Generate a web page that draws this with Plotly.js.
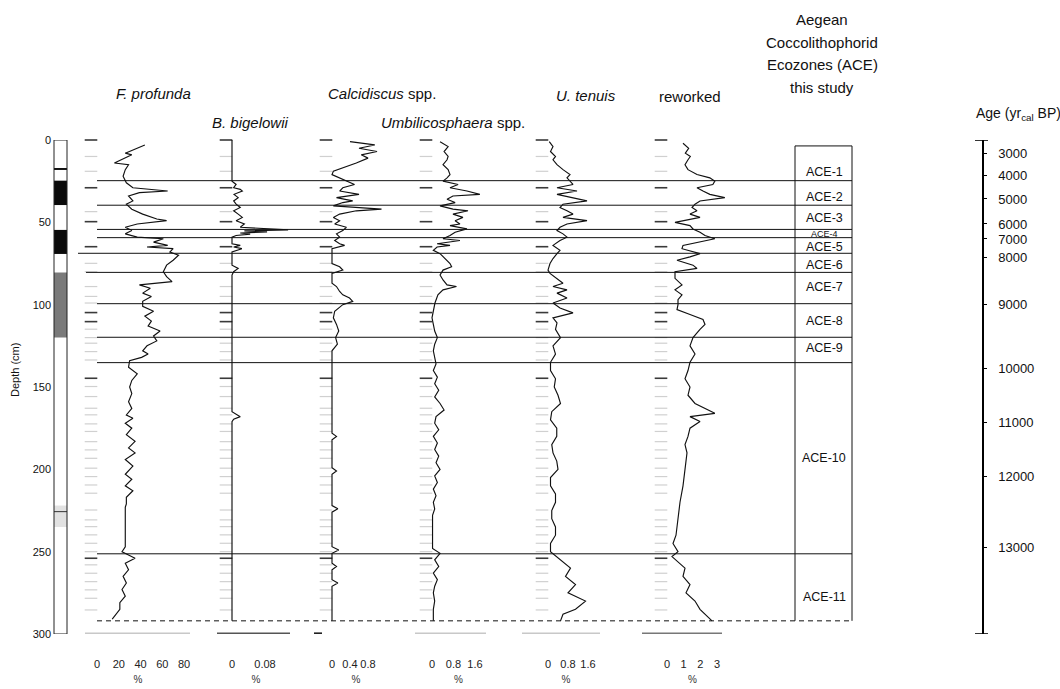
<!DOCTYPE html>
<html><head><meta charset="utf-8">
<script src="https://cdn.plot.ly/plotly-3.0.1.min.js"></script>
<style>html,body{margin:0;padding:0;background:#fff}#chart{width:1060px;height:689px}</style>
</head><body><div id="chart"></div>
<script>
// ---------------- DATA ----------------
const fpDepth = [3,8,9,14,15,18,22,26,29,31,32,34,37,39,42,45,48,49,51,53,55,57,59,60,62,64,65,66,68,70,73,76,80,83,86,88,90,93,95,98,101,104,107,110,113,116,119,122,125,128,130,132,134,138,142,146,150,154,159,163,167,169,172,175,179,183,187,190,194,198,203,206,210,213,217,221,223,247,250,254,257,261,265,269,273,277,281,285,291];
const fpValue = [44,26,32,16,29,26,24,27,33,65,39,29,33,27,32,42,55,64,37,26,32,26,37,61,52,65,46,70,67,75,70,64,61,64,69,39,49,42,50,42,42,52,44,50,47,58,52,55,46,42,47,41,30,29,37,32,30,32,29,32,27,33,26,32,27,35,29,35,26,33,26,32,26,33,27,27,26,26,23,35,26,29,24,27,23,26,21,21,14];

const bbDepth = [0,25,27,29,30,31,33,35,37,39,41,43,45,47,49,51,53,54.6,55.2,55.8,56.5,57.2,58,59,63,64,65,66,68,76,78,80,82,165,168,169.5,171,292];
const bbValue = [0,0,0.01,0.004,0.02,0.025,0.005,0.015,0.004,0.01,0.02,0.004,0.015,0.025,0.01,0.03,0.02,0.136,0.03,0.085,0.02,0.044,0.01,0,0,0.02,0.004,0.024,0,0,0.015,0.004,0,0,0.02,0.004,0,0];

const caDepth = [1,3,5,7,9,11,14,16,19,21,23,25,27,29,31,33,35,37,38,40,42,43,45,47,49,51,53,55,57,59,61,63,64,66,75,77,79,81,87,89,92,94,96,98,100,104,108,112,116,120,124,128,178,180,182,199,201,203,222,224,226,247,249,251,257,259,261,267,269,271,292];
const caValue = [0.4,0.95,0.6,1.0,0.65,0.8,0.54,0.32,0.03,0,0.17,0.32,0.5,0.24,0.17,0.6,0.1,0.46,0.24,0.03,1.1,0.54,0.17,0.03,0.17,0.06,0.32,0.24,0.1,0.17,0.06,0.17,0.28,0,0,0.17,0.24,0,0,0.1,0.17,0.24,0.39,0.46,0.24,0.06,0.03,0.1,0.15,0.08,0.12,0,0,0.1,0,0,0.1,0,0,0.13,0,0,0.15,0,0,0.1,0,0,0.13,0,0];

const umDepth = [1,4,7,10,12,15,18,21,23,25,27,29,31,33,34,36,38,40,42,43,45,47,49,51,52,54,56,58,60,61,63,64,65,67,69,72,75,77,79,82,85,88,89,91,94,99,104,108,112,116,120,124,128,132,136,140,144,148,152,156,160,164,168,172,176,180,184,188,192,196,200,204,208,212,216,220,224,228,248,251,255,259,263,267,271,275,280,285,292];
const umValue = [0.3,0.6,0.45,0.6,0.56,0.41,0.6,0.67,0.56,0.41,0.97,0.67,1.3,1.78,0.78,0.56,0.86,0.3,0.78,1.34,0.78,1.15,0.86,1.04,0.67,1.3,0.86,0.67,0.41,1.04,0.19,0.67,0.19,0.05,0.3,0.48,0.67,0.73,0.41,0.3,0.41,0.56,0.91,0.41,0.22,0.11,0.04,0,0.05,0.1,0.2,0.1,0.05,0.1,0.15,0.05,0.2,0.1,0.25,0.1,0.3,0.45,0.15,0.1,0.25,0.05,0.2,0.1,0.25,0.15,0.3,0.1,0.2,0.05,0.15,0.05,0.1,0.02,0.02,0.3,0.1,0.25,0.05,0.2,0.1,0.05,0.1,0.05,0.05];

const utDepth = [1,4,7,10,12,15,18,21,23,25,27,29,31,33,35,37,39,41,43,45,47,49,51,53,55,57,59,61,64,67,69,72,75,79,81,84,87,89,91,93,96,99,102,105,108,111,115,120,125,130,135,140,145,150,155,160,165,170,175,180,185,190,195,200,205,210,215,220,225,230,235,240,245,250,255,260,265,270,275,280,285,288,292];
const utValue = [0.05,0.2,0.1,0.3,0.2,0.36,0.6,0.88,0.76,0.88,1.0,0.36,1.16,0.36,1.0,1.56,0.6,0.48,0.76,1.0,0.6,1.56,0.76,0.48,0.36,0.6,0.76,0.48,0.2,0.48,0.36,0.2,0.08,0,0.08,0.36,0.6,0.2,0.76,0.36,0.76,0.2,0.48,1.0,0.2,0.36,0.3,0.5,0.2,0.3,0.1,0.1,0.3,0.25,0.4,0.5,0.15,0.1,0.35,0.35,0.15,0.2,0.35,0.4,0.1,0.1,0.3,0.3,0.15,0.15,0.3,0.3,0.1,0.1,0.5,0.9,0.7,1.1,0.8,1.5,1.1,0.6,0.5];

const rwDepth = [2,5,8,10,12,15,18,21,23,25,27,29,31,33,35,37,39,41,43,45,47,49,50,52,54,56,58,60,62,64,66,69,71,73,76,78,80,84,88,91,94,97,100,103,106,109,112,115,120,125,130,135,140,145,150,155,160,163,166,168,171,175,180,185,190,200,210,220,230,240,245,250,253,257,260,265,270,275,280,285,292];
const rwValue = [0.96,1.3,1.1,1.4,1.26,1.08,1.26,1.8,2.57,2.87,2.75,1.8,2.16,2.57,3.47,1.98,1.68,1.5,1.8,1.38,1.98,0.96,0.48,1.38,1.56,1.98,2.28,2.87,1.8,0.96,0.9,1.98,1.38,0.6,1.56,1.8,0.48,0.48,0.9,0.48,0.9,0.66,0.66,0.6,1.38,2.16,2.28,1.98,1.56,1.38,1.68,1.38,1.26,1.08,1.38,1.26,1.68,2.28,2.87,1.38,1.98,1.38,1.26,1.08,1.2,1.08,0.96,0.78,0.66,0.54,0.36,0.66,0.3,0.78,1.08,0.96,1.38,1.14,1.68,1.98,2.7];

// sample-level dash marks drawn beside each curve
const sampleDepth = [0,10,19,29,43.5,49.6,64.8,74.9,80,89,95,99,104.8,110.3,114.9,120,123.4,128.5,133.6,144.7,149.7,155.8,162.9,166.9,172.4,177,183.2,188.2,193.3,199.3,204.4,209.5,214.5,224.7,230.7,234.8,239.8,244.9,250,254,258,263.1,268.2,273.2,278.3,285.4];
const sampleDark = [1,0,0,1,0,1,1,0,0,0,0,0,1,1,0,0,0,0,0,1,0,0,0,0,0,0,0,0,0,0,0,0,0,0,0,0,0,0,0,1,0,0,0,0,0,0];

const depthTicks = [0,50,100,150,200,250,300];
const fpTicks = [0,20,40,60,80];
const bbTicks = [0,0.08];
const caTicks = [0,0.4,0.8];
const umTicks = [0,0.8,1.6];
const utTicks = [0,0.8,1.6];
const rwTicks = [0,1,2,3];

const zoneBounds = [24.7,39.6,54.3,59.3,68.8,80.4,99.4,119.8,135.2,251.3];
const zoneTop = 3.6;
const coreBase = 292;
const aceLabels = ['ACE-1','ACE-2','ACE-3','ACE-4','ACE-5','ACE-6','ACE-7','ACE-8','ACE-9','ACE-10','ACE-11'];
const aceLabelDepth = [19.4,34.6,47.4,57,65,75.9,89.3,110,126.3,193,277.5];

const ageTicks = [3000,4000,5000,6000,7000,8000,9000,10000,11000,12000,13000];
const ageDepth = [7.9,21.3,35.8,51,60.1,71.6,99.6,139,171.8,204.6,247.7];

const lithoTop = [17,24.7,54.6,80.5,222];
const lithoBot = [18.2,39.5,69.2,120,235];
const lithoFill = ['#111','#0a0a0a','#0a0a0a','#7a7a7a','#e2e2e2'];

// ---------------- LAYOUT HELPERS ----------------
const W=1060, H=689;
const X = p => p/W, Y = p => 1 - p/H;
const FONT = '"Liberation Sans", Arial, sans-serif';

const panels = [
  {name:'fp', d:fpDepth, v:fpValue, ticks:fpTicks, zero:97,  ppu:87/80,   left:80,  right:196},
  {name:'bb', d:bbDepth, v:bbValue, ticks:bbTicks, zero:232, ppu:33/0.08, left:212, right:300},
  {name:'ca', d:caDepth, v:caValue, ticks:caTicks, zero:332, ppu:36/0.8,  left:312, right:400},
  {name:'um', d:umDepth, v:umValue, ticks:umTicks, zero:432, ppu:43/1.6,  left:412, right:505},
  {name:'ut', d:utDepth, v:utValue, ticks:utTicks, zero:548, ppu:40/1.6,  left:520, right:612},
  {name:'rw', d:rwDepth, v:rwValue, ticks:rwTicks, zero:667, ppu:50/3,    left:640, right:745}
];

const data = [];
const layout = {
  width:W, height:H, margin:{l:0,r:0,t:0,b:0},
  paper_bgcolor:'#fff', plot_bgcolor:'rgba(0,0,0,0)',
  showlegend:false, font:{family:FONT, color:'#111'},
  shapes:[], annotations:[]
};

layout.yaxis = {
  domain:[Y(634), Y(140)], range:[300,0], anchor:'free', position:X(51),
  tickmode:'array', tickvals:depthTicks, ticks:'', showline:false, color:'#111',
  showgrid:false, zeroline:false, tickfont:{size:11, color:'#111'}
};
layout.yaxis2 = {
  overlaying:'y', side:'right', anchor:'free', position:X(982), range:[300,0],
  tickmode:'array', tickvals:ageDepth, ticktext:ageTicks.map(String),
  showline:true, linecolor:'#000', linewidth:1.6, ticks:'outside', ticklen:3,
  tickcolor:'#000', ticklabelstandoff:9, showgrid:false, zeroline:false, color:'#111',
  tickfont:{size:13, color:'#111'}
};

panels.forEach((p,i)=>{
  const key = i===0 ? 'xaxis' : 'xaxis'+(i+1);
  const ref = i===0 ? 'x' : 'x'+(i+1);
  layout[key] = {
    domain:[X(p.left), X(p.right)],
    range:[(p.left-p.zero)/p.ppu, (p.right-p.zero)/p.ppu],
    anchor:'free', position:Y(656), showline:false, ticks:'', color:'#111',
    tickmode:'array', tickvals:p.ticks, ticktext:p.ticks.map(String),
    tickfont:{size:11, color:'#222'}, showgrid:false, zeroline:false,
    title:{text:'%', font:{size:10, color:'#333'}, standoff:6}
  };
  // sample dashes (light and dark) just left of the zero line
  const off = -6/p.ppu;
  [0,1].forEach(k=>{
    const dd = sampleDepth.filter((_,j)=>sampleDark[j]===k);
    const col = k ? '#3a3a3a' : '#d0d0d0';
    data.push({type:'scatter', mode:'markers', x:dd.map(()=>off), y:dd, xaxis:ref, yaxis:'y',
      marker:{symbol:'line-ew-open', size:9, color:col, line:{width:k? 1.6 : 1.2, color:col}},
      hoverinfo:'skip', cliponaxis:false});
  });
  data.push({type:'scatter', mode:'lines', x:p.v, y:p.d, xaxis:ref, yaxis:'y',
    line:{color:'#111', width:1.15}, hoverinfo:'skip'});
});
// carrier trace for the age axis
data.push({type:'scatter', mode:'markers', x:[null], y:[null], xaxis:'x', yaxis:'y2', hoverinfo:'skip', marker:{opacity:0}});

// lithology column
lithoTop.forEach((t,i)=>{
  layout.shapes.push({type:'rect', xref:'paper', yref:'y', x0:X(54), x1:X(67), y0:t, y1:lithoBot[i],
    fillcolor:lithoFill[i], line:{width:0}});
});
layout.shapes.push({type:'line', xref:'paper', yref:'y', x0:X(54), x1:X(67), y0:225.7, y1:225.7, line:{color:'#333', width:1}});
layout.shapes.push({type:'rect', xref:'paper', yref:'y', x0:X(54), x1:X(67), y0:0, y1:300, line:{color:'#222', width:1}});

// zone boundary lines
zoneBounds.forEach((b,i)=>{
  const start = i===4 ? 78 : (i===5 ? 86 : 97);
  layout.shapes.push({type:'line', xref:'paper', yref:'y', x0:X(start), x1:X(852), y0:b, y1:b, line:{color:'#111', width:1}});
});
layout.shapes.push({type:'line', xref:'paper', yref:'y', x0:X(97), x1:X(852), y0:coreBase, y1:coreBase, line:{color:'#111', width:1, dash:'5px,4px'}});
// ACE box
layout.shapes.push({type:'line', xref:'paper', yref:'y', x0:X(795), x1:X(852), y0:zoneTop, y1:zoneTop, line:{color:'#111', width:1}});
[795,852].forEach(xx=>layout.shapes.push({type:'line', xref:'paper', yref:'y', x0:X(xx), x1:X(xx), y0:zoneTop, y1:coreBase, line:{color:'#111', width:1}}));
// age axis caps
[0,300].forEach(d=>layout.shapes.push({type:'line', xref:'paper', yref:'y', x0:X(975), x1:X(988), y0:d, y1:d, line:{color:'#000', width:1.6}}));
// panel base lines
const baseLines = [[85,190,'#c8c8c8'],[217,290,'#555'],[314,322,'#111'],[415,486,'#c8c8c8'],[522,600,'#c8c8c8'],[642,722,'#777']];
baseLines.forEach(b=>layout.shapes.push({type:'line', xref:'paper', yref:'y', x0:X(b[0]), x1:X(b[1]), y0:299.5, y1:299.5, line:{color:b[2], width:1.5}}));

// ACE labels
aceLabels.forEach((t,i)=>{
  layout.annotations.push({xref:'paper', yref:'y', x:X(824), y:aceLabelDepth[i], text:t, showarrow:false,
    xanchor:'center', yanchor:'middle', font:{size: t==='ACE-4' ? 9 : 12.5, color:'#111'}});
});

// titles
const ann = (x,y,text,size,extra)=>layout.annotations.push(Object.assign({xref:'paper', yref:'paper', x:X(x), y:Y(y), text, showarrow:false, xanchor:'center', yanchor:'middle', font:{size, color:'#111'}}, extra||{}));
ann(153, 93, '<i>F. profunda</i>', 15);
ann(250, 122, '<i>B. bigelowii</i>', 15);
ann(382, 93, '<i>Calcidiscus</i> spp.', 15);
ann(453, 122, '<i>Umbilicosphaera</i> spp.', 15);
ann(586, 95, '<i>U. tenuis</i>', 15);
ann(690, 96, 'reworked', 15);
ann(822, 20, 'Aegean', 15);
ann(822, 43, 'Coccolithophorid', 15);
ann(822, 65, 'Ecozones (ACE)', 15);
ann(822, 88, 'this study', 15);
ann(1018, 114, 'Age (yr<sub>cal</sub> BP)', 14);
ann(15, 370, 'Depth (cm)', 11, {textangle:-90});

Plotly.newPlot('chart', data, layout, {staticPlot:true, displayModeBar:false});
</script>
</body></html>
